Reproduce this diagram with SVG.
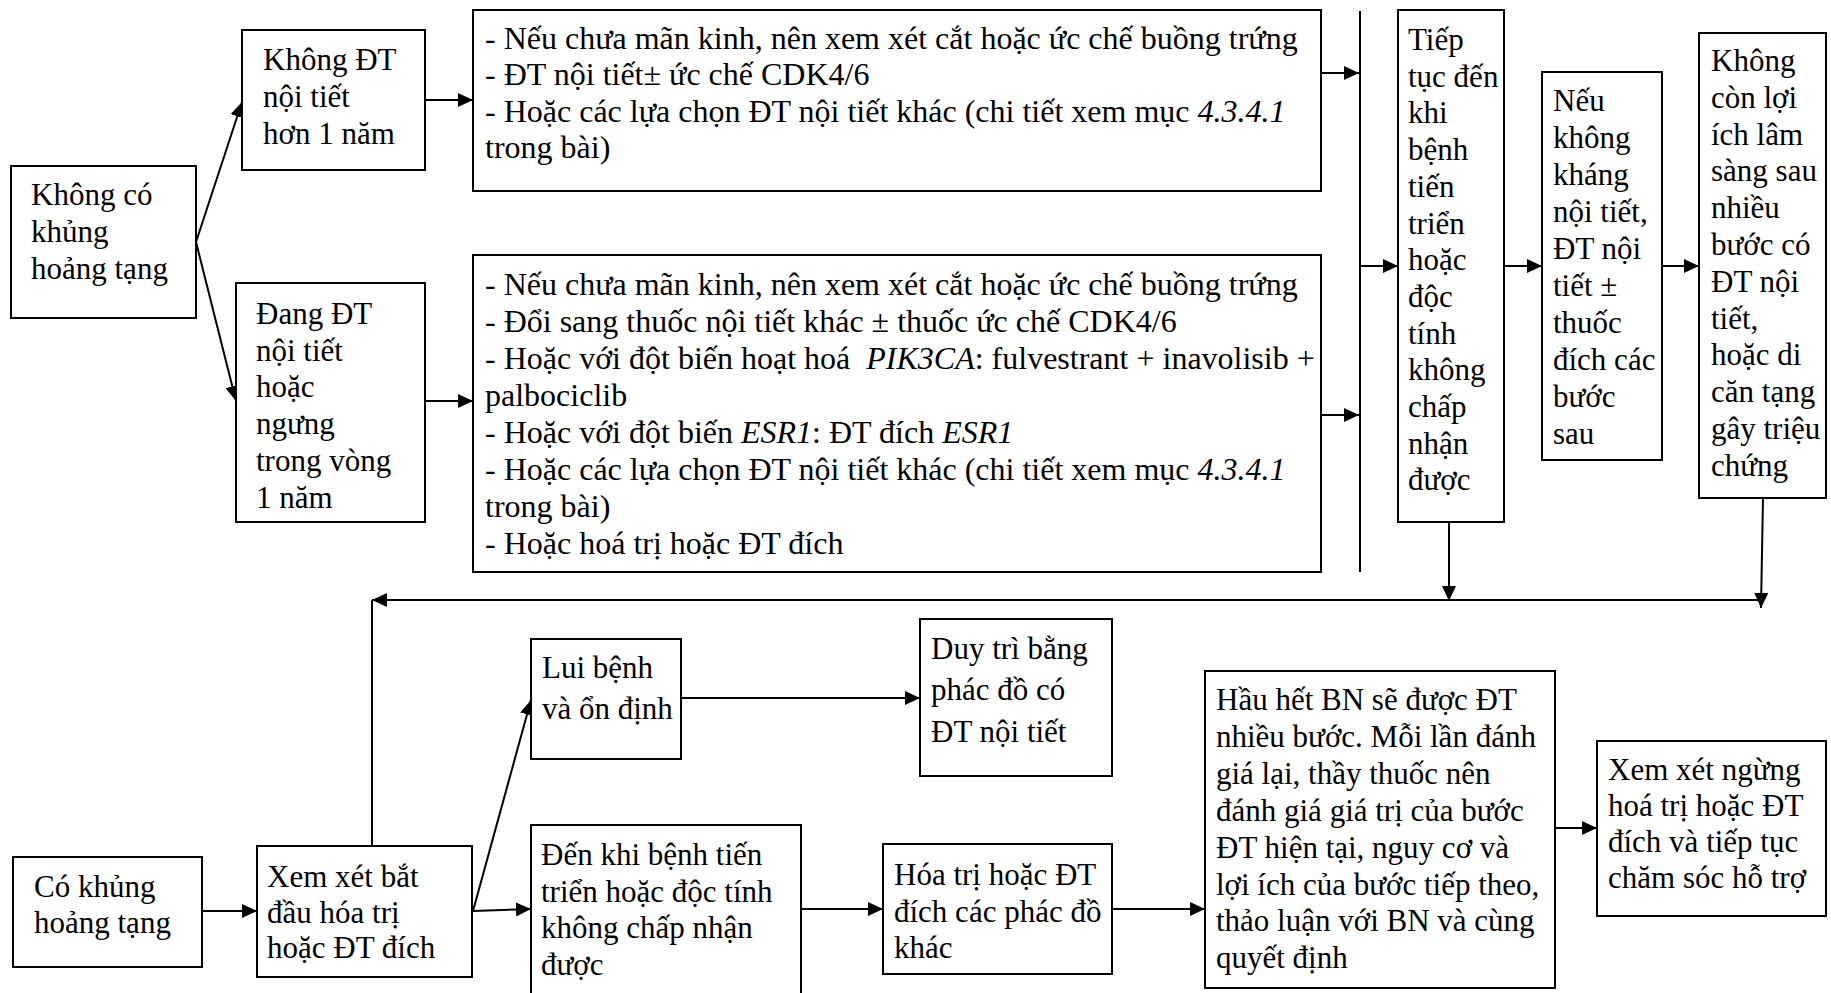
<svg xmlns="http://www.w3.org/2000/svg" width="1831" height="993" viewBox="0 0 1831 993">
  <style>
    .box { fill: #ffffff; stroke: #000000; stroke-width: 2; }
    .t { font-family: "Liberation Serif", "Times New Roman", serif; font-size: 31px; fill: #000000; }
    .big { font-size: 32px; }
    .it { font-style: italic; }
    .ln { fill: none; stroke: #000000; stroke-width: 2; }
    .arr { marker-end: url(#head); }
  </style>
  <defs>
    <marker id="head" markerUnits="userSpaceOnUse" markerWidth="15" markerHeight="14" refX="15" refY="7" orient="auto">
      <path d="M0,0 L15,7 L0,14 Z" fill="#000000"/>
    </marker>
  </defs>
  <rect x="0" y="0" width="1831" height="993" fill="#ffffff"/>

  <!-- Connectors -->
  <g id="connectors">
    <line class="ln arr" x1="196" y1="242" x2="242" y2="102"/>
    <line class="ln arr" x1="196" y1="242" x2="236" y2="401"/>
    <line class="ln arr" x1="425" y1="100" x2="473" y2="100"/>
    <line class="ln arr" x1="425" y1="401" x2="473" y2="401"/>
    <line class="ln arr" x1="1321" y1="73" x2="1359" y2="73"/>
    <line class="ln arr" x1="1321" y1="415" x2="1359" y2="415"/>
    <line class="ln" x1="1360" y1="11" x2="1360" y2="572"/>
    <line class="ln arr" x1="1360" y1="266" x2="1398" y2="266"/>
    <line class="ln arr" x1="1504" y1="266" x2="1542" y2="266"/>
    <line class="ln arr" x1="1662" y1="266" x2="1699" y2="266"/>
    <line class="ln arr" x1="1449" y1="522" x2="1449" y2="601"/>
    <line class="ln arr" x1="1763" y1="498" x2="1761" y2="608"/>
    <line class="ln arr" x1="1762" y1="600" x2="372" y2="600"/>
    <line class="ln arr" x1="372" y1="600" x2="372" y2="862"/>
    <line class="ln arr" x1="202" y1="911" x2="257" y2="911"/>
    <line class="ln arr" x1="473" y1="911" x2="531" y2="700"/>
    <line class="ln arr" x1="473" y1="911" x2="531" y2="909"/>
    <line class="ln arr" x1="681" y1="698" x2="920" y2="698"/>
    <line class="ln arr" x1="801" y1="909" x2="883" y2="909"/>
    <line class="ln arr" x1="1112" y1="909" x2="1205" y2="909"/>
    <line class="ln arr" x1="1555" y1="828" x2="1597" y2="828"/>
  </g>

  <!-- Upper section -->
  <g id="no-visceral-crisis">
    <rect class="box" x="11" y="166" width="185" height="152"/>
    <text class="t">
      <tspan x="31" y="205">Không có</tspan>
      <tspan x="31" y="242">khủng</tspan>
      <tspan x="31" y="279">hoảng tạng</tspan>
    </text>
  </g>

  <g id="no-endocrine-over-1y">
    <rect class="box" x="242" y="30" width="183" height="140"/>
    <text class="t">
      <tspan x="263" y="70">Không ĐT</tspan>
      <tspan x="263" y="107">nội tiết</tspan>
      <tspan x="263" y="144">hơn 1 năm</tspan>
    </text>
  </g>

  <g id="on-endocrine-within-1y">
    <rect class="box" x="236" y="283" width="189" height="239"/>
    <text class="t">
      <tspan x="256" y="324">Đang ĐT</tspan>
      <tspan x="256" y="360.7">nội tiết</tspan>
      <tspan x="256" y="397.4">hoặc</tspan>
      <tspan x="256" y="434.1">ngưng</tspan>
      <tspan x="256" y="470.8">trong vòng</tspan>
      <tspan x="256" y="507.5">1 năm</tspan>
    </text>
  </g>

  <g id="options-endocrine-naive">
    <rect class="box" x="473" y="10" width="848" height="181"/>
    <text class="t big">
      <tspan x="485" y="48.5">- Nếu chưa mãn kinh, nên xem xét cắt hoặc ức chế buồng trứng</tspan>
      <tspan x="485" y="85">- ĐT nội tiết± ức chế CDK4/6</tspan>
      <tspan x="485" y="121.5">- Hoặc các lựa chọn ĐT nội tiết khác (chi tiết xem mục <tspan class="it">4.3.4.1</tspan></tspan>
      <tspan x="485" y="158">trong bài)</tspan>
    </text>
  </g>

  <g id="options-endocrine-exposed">
    <rect class="box" x="473" y="255" width="848" height="317"/>
    <text class="t big">
      <tspan x="485" y="295">- Nếu chưa mãn kinh, nên xem xét cắt hoặc ức chế buồng trứng</tspan>
      <tspan x="485" y="332">- Đổi sang thuốc nội tiết khác ± thuốc ức chế CDK4/6</tspan>
      <tspan x="485" y="369">- Hoặc với đột biến hoạt hoá&#160; <tspan class="it">PIK3CA</tspan>: fulvestrant + inavolisib +</tspan>
      <tspan x="485" y="406">palbociclib</tspan>
      <tspan x="485" y="443">- Hoặc với đột biến <tspan class="it">ESR1</tspan>: ĐT đích <tspan class="it">ESR1</tspan></tspan>
      <tspan x="485" y="480">- Hoặc các lựa chọn ĐT nội tiết khác (chi tiết xem mục <tspan class="it">4.3.4.1</tspan></tspan>
      <tspan x="485" y="517">trong bài)</tspan>
      <tspan x="485" y="554">- Hoặc hoá trị hoặc ĐT đích</tspan>
    </text>
  </g>

  <g id="continue-until-progression">
    <rect class="box" x="1398" y="10" width="106" height="512"/>
    <text class="t">
      <tspan x="1408" y="50">Tiếp</tspan>
      <tspan x="1408" y="86.7">tục đến</tspan>
      <tspan x="1408" y="123.4">khi</tspan>
      <tspan x="1408" y="160.1">bệnh</tspan>
      <tspan x="1408" y="196.8">tiến</tspan>
      <tspan x="1408" y="233.5">triển</tspan>
      <tspan x="1408" y="270.2">hoặc</tspan>
      <tspan x="1408" y="306.9">độc</tspan>
      <tspan x="1408" y="343.6">tính</tspan>
      <tspan x="1408" y="380.3">không</tspan>
      <tspan x="1408" y="417">chấp</tspan>
      <tspan x="1408" y="453.7">nhận</tspan>
      <tspan x="1408" y="490.4">được</tspan>
    </text>
  </g>

  <g id="later-lines-endocrine">
    <rect class="box" x="1542" y="72" width="120" height="388"/>
    <text class="t">
      <tspan x="1553" y="111">Nếu</tspan>
      <tspan x="1553" y="148">không</tspan>
      <tspan x="1553" y="185">kháng</tspan>
      <tspan x="1553" y="222">nội tiết,</tspan>
      <tspan x="1553" y="259">ĐT nội</tspan>
      <tspan x="1553" y="296">tiết ±</tspan>
      <tspan x="1553" y="333">thuốc</tspan>
      <tspan x="1553" y="370">đích các</tspan>
      <tspan x="1553" y="407">bước</tspan>
      <tspan x="1553" y="444">sau</tspan>
    </text>
  </g>

  <g id="no-further-benefit">
    <rect class="box" x="1699" y="33" width="127" height="465"/>
    <text class="t">
      <tspan x="1711" y="71">Không</tspan>
      <tspan x="1711" y="107.8">còn lợi</tspan>
      <tspan x="1711" y="144.6">ích lâm</tspan>
      <tspan x="1711" y="181.4">sàng sau</tspan>
      <tspan x="1711" y="218.2">nhiều</tspan>
      <tspan x="1711" y="255">bước có</tspan>
      <tspan x="1711" y="291.8">ĐT nội</tspan>
      <tspan x="1711" y="328.6">tiết,</tspan>
      <tspan x="1711" y="365.4">hoặc di</tspan>
      <tspan x="1711" y="402.2">căn tạng</tspan>
      <tspan x="1711" y="439">gây triệu</tspan>
      <tspan x="1711" y="475.8">chứng</tspan>
    </text>
  </g>

  <!-- Lower section -->
  <g id="visceral-crisis">
    <rect class="box" x="13" y="857" width="189" height="110"/>
    <text class="t">
      <tspan x="34" y="897">Có khủng</tspan>
      <tspan x="34" y="933">hoảng tạng</tspan>
    </text>
  </g>

  <g id="start-chemo-targeted">
    <rect class="box" x="257" y="846" width="215" height="131"/>
    <text class="t">
      <tspan x="267" y="887">Xem xét bắt</tspan>
      <tspan x="267" y="922.5">đầu hóa trị</tspan>
      <tspan x="267" y="958">hoặc ĐT đích</tspan>
    </text>
  </g>

  <g id="remission-stable">
    <rect class="box" x="531" y="639" width="150" height="120"/>
    <text class="t">
      <tspan x="542" y="678">Lui bệnh</tspan>
      <tspan x="542" y="719">và ổn định</tspan>
    </text>
  </g>

  <g id="maintenance">
    <rect class="box" x="920" y="619" width="192" height="157"/>
    <text class="t">
      <tspan x="931" y="659">Duy trì bằng</tspan>
      <tspan x="931" y="700">phác đồ có</tspan>
      <tspan x="931" y="742">ĐT nội tiết</tspan>
    </text>
  </g>

  <g id="until-progression">
    <rect class="box" x="531" y="825" width="270" height="180"/>
    <text class="t">
      <tspan x="541" y="865">Đến khi bệnh tiến</tspan>
      <tspan x="541" y="902">triển hoặc độc tính</tspan>
      <tspan x="541" y="938">không chấp nhận</tspan>
      <tspan x="541" y="975">được</tspan>
    </text>
  </g>

  <g id="other-regimens">
    <rect class="box" x="883" y="844" width="229" height="130"/>
    <text class="t">
      <tspan x="894" y="885">Hóa trị hoặc ĐT</tspan>
      <tspan x="894" y="922">đích các phác đồ</tspan>
      <tspan x="894" y="958">khác</tspan>
    </text>
  </g>

  <g id="reassess-each-line">
    <rect class="box" x="1205" y="671" width="350" height="317"/>
    <text class="t">
      <tspan x="1216" y="710">Hầu hết BN sẽ được ĐT</tspan>
      <tspan x="1216" y="746.9">nhiều bước. Mỗi lần đánh</tspan>
      <tspan x="1216" y="783.8">giá lại, thầy thuốc nên</tspan>
      <tspan x="1216" y="820.7">đánh giá giá trị của bước</tspan>
      <tspan x="1216" y="857.6">ĐT hiện tại, nguy cơ và</tspan>
      <tspan x="1216" y="894.5">lợi ích của bước tiếp theo,</tspan>
      <tspan x="1216" y="931.4">thảo luận với BN và cùng</tspan>
      <tspan x="1216" y="968.3">quyết định</tspan>
    </text>
  </g>

  <g id="stop-and-support">
    <rect class="box" x="1597" y="741" width="229" height="175"/>
    <text class="t">
      <tspan x="1608" y="780">Xem xét ngừng</tspan>
      <tspan x="1608" y="816">hoá trị hoặc ĐT</tspan>
      <tspan x="1608" y="852">đích và tiếp tục</tspan>
      <tspan x="1608" y="888">chăm sóc hỗ trợ</tspan>
    </text>
  </g>
</svg>
